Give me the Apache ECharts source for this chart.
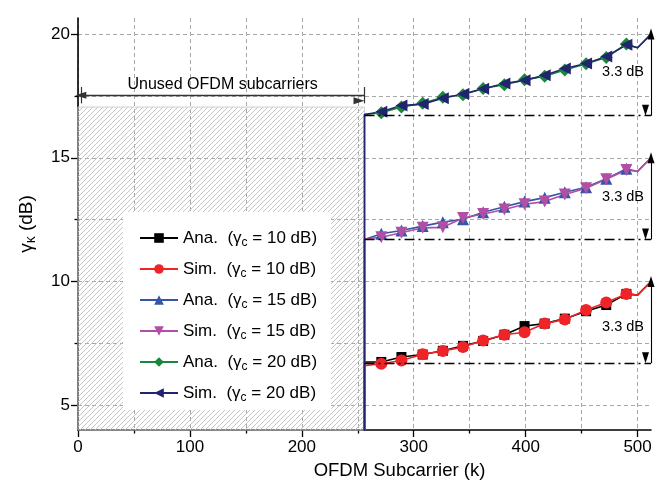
<!DOCTYPE html>
<html>
<head>
<meta charset="utf-8">
<script src="https://cdn.jsdelivr.net/npm/echarts@6/dist/echarts.min.js"></script>
<style>
  html, body { margin: 0; padding: 0; background: #fff; }
  #chart { width: 672px; height: 485px; }
</style>
</head>
<body>
<div id="chart"></div>
<script>
// Subcarriers that carry a plotted marker
const markerK = [271, 289, 308, 326, 344, 362, 381, 399, 417, 435, 454, 472, 490];
// First used subcarrier, a kink near the band edge, last subcarrier
const edgeK = [256, 500, 512];

// Effective SNR per subcarrier (dB): values at the marker subcarriers
const ana10 = [6.75, 6.95, 7.05, 7.20, 7.40, 7.60, 7.85, 8.20, 8.30, 8.50, 8.80, 9.05, 9.50];
const sim10 = [6.68, 6.81, 7.06, 7.19, 7.35, 7.62, 7.85, 7.95, 8.30, 8.47, 8.85, 9.15, 9.50];
const ana15 = [11.93, 12.06, 12.24, 12.40, 12.52, 12.80, 13.02, 13.23, 13.39, 13.61, 13.81, 14.15, 14.56];
const sim15 = [11.79, 11.97, 12.17, 12.19, 12.57, 12.73, 12.91, 13.12, 13.23, 13.52, 13.77, 14.13, 14.51];
const ana20 = [16.82, 17.05, 17.20, 17.45, 17.55, 17.80, 17.95, 18.15, 18.30, 18.55, 18.80, 19.05, 19.60];
const sim20 = [16.86, 17.11, 17.17, 17.41, 17.58, 17.79, 18.00, 18.13, 18.34, 18.61, 18.81, 19.09, 19.57];

// Values at edgeK (band start, kink, band end)
const ana10Edge = [6.75, 9.45, 10.0];
const sim10Edge = [6.60, 9.45, 10.0];
const ana15Edge = [11.70, 14.45, 15.0];
const sim15Edge = [11.72, 14.45, 15.0];
const ana20Edge = [16.75, 19.45, 20.0];
const sim20Edge = [16.75, 19.45, 20.0];

// Unused subcarriers carry no signal
const unusedLevel = 0;

// Guard band and the 3.3 dB spread annotations
const unusedBand = [0, 256];
const unusedTop = 17.05;
const unusedArrowLevel = 17.53;
const spread = 3.3;
const bandTops = [10, 15, 20];
const spreadLabelDrop = [1.85, 1.6, 1.55];

// Axis ticks
const xMajor = [0, 100, 200, 300, 400, 500];
const xMinor = [50, 150, 250, 350, 450];
const yMajor = [5, 10, 15, 20];
const yMinor = [7.5, 12.5, 17.5];

const FONT = 'Liberation Sans, Arial, sans-serif';

function buildData(marks, edge) {
  const pts = [
    { value: [edgeK[0], unusedLevel], symbol: 'none' },
    { value: [edgeK[0], edge[0]], symbol: 'none' }
  ];
  markerK.forEach((k, i) => pts.push({ value: [k, marks[i]] }));
  pts.push({ value: [edgeK[1], edge[1]], symbol: 'none' });
  pts.push({ value: [edgeK[2], edge[2]], symbol: 'none' });
  return pts;
}

// diagonal hatch for the guard band
const hatch = (() => {
  const c = document.createElement('canvas');
  c.width = 5; c.height = 5;
  const g = c.getContext('2d');
  g.strokeStyle = '#bcbcbc';
  g.lineWidth = 0.85;
  g.beginPath();
  g.moveTo(-1, 6); g.lineTo(6, -1);
  g.moveTo(-1, 1); g.lineTo(1, -1);
  g.moveTo(4, 6); g.lineTo(6, 4);
  g.stroke();
  return c;
})();

const defs = [
  { name: 'Ana.  (γc = 10 dB)', marks: ana10, edge: ana10Edge, color: '#000000', symbol: 'rect', size: 10, rot: 0 },
  { name: 'Sim.  (γc = 10 dB)', marks: sim10, edge: sim10Edge, color: '#ee2428', symbol: 'circle', size: 12, rot: 0 },
  { name: 'Ana.  (γc = 15 dB)', marks: ana15, edge: ana15Edge, color: '#3556a8', symbol: 'triangle', size: 12, rot: 0 },
  { name: 'Sim.  (γc = 15 dB)', marks: sim15, edge: sim15Edge, color: '#b04fa3', symbol: 'triangle', size: 12, rot: 180 },
  { name: 'Ana.  (γc = 20 dB)', marks: ana20, edge: ana20Edge, color: '#17893a', symbol: 'diamond', size: 13, rot: 0 },
  { name: 'Sim.  (γc = 20 dB)', marks: sim20, edge: sim20Edge, color: '#232470', symbol: 'triangle', size: 12, rot: 90 }
];

const series = defs.map(d => ({
  name: d.name,
  type: 'line',
  xAxisIndex: 0,
  yAxisIndex: 0,
  data: buildData(d.marks, d.edge),
  symbol: d.symbol,
  symbolSize: d.size,
  symbolRotate: d.rot,
  showSymbol: true,
  clip: true,
  lineStyle: { color: d.color, width: 1.6 },
  itemStyle: { color: d.color },
  animation: false,
  z: 3
}));

const arrowStyle = { color: '#000', width: 1.1, type: 'solid' };
const markLines = [];
const spreadLabels = [];
bandTops.forEach((top, i) => {
  const base = top - spread;
  markLines.push([
    { coord: [edgeK[0], base], symbol: 'none',
      lineStyle: { type: [10, 4, 2, 4], color: '#000', width: 1.4 } },
    { coord: [edgeK[2], base], symbol: 'none' }
  ]);
  markLines.push([
    { coord: [edgeK[2], top], symbol: 'triangle', lineStyle: arrowStyle },
    { coord: [edgeK[2], base], symbol: 'triangle' }
  ]);
  spreadLabels.push({ coord: [edgeK[2], top - spreadLabelDrop[i]], value: spread });
});

// guard-band annotation: double arrow with end bars
markLines.push([
  { coord: [unusedBand[0] + 2.5, unusedArrowLevel], symbol: 'triangle',
    lineStyle: { color: '#333', width: 1.4, type: 'solid' },
    label: { show: true, position: 'middle', formatter: 'Unused OFDM subcarriers',
             color: '#000', fontSize: 16, fontFamily: FONT, distance: 3 } },
  { coord: [unusedBand[1], unusedArrowLevel], symbol: 'triangle' }
]);
[unusedBand[0] + 2.5, unusedBand[1]].forEach(k => {
  markLines.push([
    { coord: [k, unusedArrowLevel - 0.33], symbol: 'none', lineStyle: { color: '#333', width: 1.2, type: 'solid' } },
    { coord: [k, unusedArrowLevel + 0.33], symbol: 'none' }
  ]);
});

series.push({
  name: 'annotations',
  type: 'line',
  xAxisIndex: 0,
  yAxisIndex: 0,
  data: [],
  animation: false,
  z: 2,
  markArea: {
    silent: true,
    itemStyle: {
      color: { image: hatch, repeat: 'repeat' },
      borderColor: '#cfcfcf',
      borderWidth: 1
    },
    data: [[{ coord: [unusedBand[0], 4] }, { coord: [unusedBand[1], unusedTop] }]]
  },
  markLine: {
    silent: true,
    animation: false,
    symbolSize: [7, 11],
    symbolOffset: [0, 5.5],
    label: { show: false },
    data: markLines
  },
  markPoint: {
    silent: true,
    animation: false,
    symbol: 'circle',
    symbolSize: 0,
    label: {
      show: true, position: 'left', distance: 7,
      formatter: p => p.value + ' dB',
      color: '#000', fontSize: 14.5, fontFamily: FONT
    },
    data: spreadLabels
  }
});

const gridStyle = { show: true, lineStyle: { color: '#a8a8a8', type: [4, 3], width: 1 } };
const tickLine = { color: '#000', width: 1.3 };

const chart = echarts.init(document.getElementById('chart'), null, { renderer: 'canvas' });
chart.setOption({
  animation: false,
  backgroundColor: '#fff',
  grid: { left: 78, right: 21, top: 18, bottom: 55, containLabel: false },
  legend: {
    data: defs.map(d => d.name),
    orient: 'vertical',
    left: 123, top: 212,
    backgroundColor: '#ffffff',
    padding: [15, 14, 6, 16],
    itemWidth: 38, itemHeight: 12, itemGap: 9,
    formatter: n => n.replace('γc', 'γ{s|c}'),
    textStyle: {
      fontSize: 17, fontFamily: FONT, color: '#000', lineHeight: 22,
      rich: { s: { fontSize: 12, lineHeight: 13, padding: [9, 0, 0, 0], fontFamily: FONT, color: '#000' } }
    }
  },
  xAxis: [{
    type: 'value',
    position: 'bottom',
    min: 0, max: 512,
    name: 'OFDM Subcarrier (k)',
    nameLocation: 'middle',
    nameGap: 31,
    nameTextStyle: { fontSize: 18.5, fontFamily: FONT, color: '#000', padding: [0, 0, 0, 70] },
    axisLine: { show: true, onZero: false, lineStyle: { color: '#000', width: 1.6 } },
    axisTick: { show: true, inside: false, length: 7, customValues: xMajor, lineStyle: tickLine },
    axisLabel: { customValues: xMajor, fontSize: 17, fontFamily: FONT, color: '#000', margin: 9 },
    splitLine: gridStyle
  }, {
    // minor ticks and their grid lines
    type: 'value',
    position: 'bottom',
    min: 0, max: 512,
    axisLine: { show: false, onZero: false },
    axisTick: { show: true, inside: false, length: 3.5, customValues: xMinor, lineStyle: tickLine },
    axisLabel: { show: false, customValues: xMinor },
    splitLine: gridStyle
  }],
  yAxis: [{
    type: 'value',
    position: 'left',
    min: 4, max: 20.65,
    name: 'γ{s|κ} (dB)',
    nameLocation: 'middle',
    nameRotate: 90,
    nameGap: 40,
    nameTextStyle: {
      fontSize: 19, fontFamily: FONT, color: '#000',
      rich: { s: { fontSize: 14, padding: [9, 0, 0, 0], fontFamily: FONT, color: '#000' } }
    },
    axisLine: { show: true, onZero: false, lineStyle: { color: '#000', width: 1.6 } },
    axisTick: { show: true, inside: false, length: 7, customValues: yMajor, lineStyle: tickLine },
    axisLabel: { customValues: yMajor, fontSize: 17, fontFamily: FONT, color: '#000', margin: 8 },
    splitLine: gridStyle
  }, {
    // minor ticks and their grid lines
    type: 'value',
    position: 'left',
    min: 4, max: 20.65,
    axisLine: { show: false, onZero: false },
    axisTick: { show: true, inside: false, length: 3.5, customValues: yMinor, lineStyle: tickLine },
    axisLabel: { show: false, customValues: yMinor },
    splitLine: gridStyle
  }],
  series: series
});
</script>
</body>
</html>
